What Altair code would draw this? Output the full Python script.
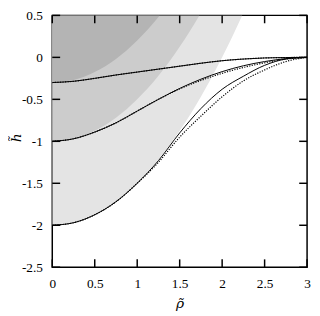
import altair as alt
import pandas as pd

# ---- data ----
rho_grid = [0.0, 0.25, 0.5, 0.75, 1.0, 1.25, 1.5, 1.75, 2.0, 2.25, 2.5, 2.75, 3.0]

# solid curves
h_solid_a = [-2.0, -1.97, -1.875, -1.72, -1.50, -1.23, -0.90, -0.61, -0.38, -0.225, -0.095, -0.02, 0.0]
h_solid_b = [-1.0, -0.97, -0.89, -0.78, -0.64, -0.50, -0.37, -0.26, -0.17, -0.10, -0.05, -0.015, 0.0]
h_solid_c = [-0.30, -0.285, -0.25, -0.21, -0.175, -0.14, -0.105, -0.07, -0.04, -0.02, -0.007, -0.002, 0.0]

# dotted curves
h_dot_a = [-2.0, -1.97, -1.875, -1.72, -1.50, -1.25, -0.95, -0.70, -0.47, -0.28, -0.15, -0.05, 0.0]
h_dot_b = [-1.0, -0.97, -0.89, -0.78, -0.64, -0.50, -0.375, -0.275, -0.19, -0.12, -0.065, -0.02, 0.0]
h_dot_c = [-0.30, -0.285, -0.25, -0.21, -0.175, -0.14, -0.105, -0.07, -0.04, -0.02, -0.007, -0.002, 0.0]

# shaded regions: lower-right boundary of each (region lies above it)
rho_light = [0.0, 0.25, 0.5, 0.75, 1.0, 1.25, 1.5, 1.75, 2.0, 2.236]
h_light = [-2.0, -1.97, -1.875, -1.72, -1.5, -1.22, -0.875, -0.47, 0.0, 0.5]
rho_mid = [0.0, 0.25, 0.5, 0.75, 1.0, 1.25, 1.5, 1.732]
h_mid = [-1.0, -0.97, -0.875, -0.72, -0.5, -0.22, 0.125, 0.5]
rho_dark = [0.0, 0.25, 0.5, 0.75, 1.0, 1.265]
h_dark = [-0.3, -0.27, -0.175, -0.02, 0.2, 0.5]

x_ticks = [0, 0.5, 1, 1.5, 2, 2.5, 3]
y_ticks = [-2.5, -2, -1.5, -1, -0.5, 0, 0.5]
h_top = 0.5

W, H = 259, 256
TICK = 8
FONT = "Liberation Serif"
TFONT = "DejaVu Serif"

xs = alt.Scale(domain=[0, 3], nice=False, zero=False)
ys = alt.Scale(domain=[-2.5, 0.5], nice=False, zero=False)

x_axis = alt.Axis(values=x_ticks, labelExpr="'' + datum.value", ticks=False, domain=False,
                  grid=False, labelFlush=False, labelOverlap=False, labelPadding=10,
                  title="ρ̃", titlePadding=6)
y_axis = alt.Axis(values=y_ticks, labelExpr="'' + datum.value", ticks=False, domain=False,
                  grid=False, labelFlush=False, labelOverlap=False, labelPadding=10,
                  title="h̃", titleX=-36, titleY=H / 2 - 4, titleAngle=270,
                  titleBaseline="middle", titleAlign="center")


def X(field):
    return alt.X(field, scale=xs, axis=x_axis)


def Y(field):
    return alt.Y(field, scale=ys, axis=y_axis)


def region(rhos, hs, color):
    df = pd.DataFrame({"rho": rhos, "h": hs, "top": [h_top] * len(rhos)})
    return alt.Chart(df).mark_area(color=color, interpolate="monotone", clip=True).encode(
        x=X("rho:Q"), y=Y("h:Q"), y2="top:Q",
    )


def curve(hs, dash):
    df = pd.DataFrame({"rho": rho_grid, "h": hs})
    kw = {"strokeDash": [1.2, 1.4], "strokeWidth": 1.2} if dash else {"strokeWidth": 1}
    return alt.Chart(df).mark_line(color="black", interpolate="monotone",
                                   clip=True, **kw).encode(x=X("rho:Q"), y=Y("h:Q"))


xt = pd.DataFrame({"rho": x_ticks})
yt = pd.DataFrame({"h": y_ticks})
tick_style = dict(color="black", strokeWidth=1.5)
ticks = [
    alt.Chart(xt).mark_rule(**tick_style).encode(
        x=X("rho:Q"), y=alt.value(H), y2=alt.value(H - TICK)),
    alt.Chart(xt).mark_rule(**tick_style).encode(
        x=X("rho:Q"), y=alt.value(0), y2=alt.value(TICK)),
    alt.Chart(yt).mark_rule(**tick_style).encode(
        y=Y("h:Q"), x=alt.value(0), x2=alt.value(TICK)),
    alt.Chart(yt).mark_rule(**tick_style).encode(
        y=Y("h:Q"), x=alt.value(W), x2=alt.value(W - TICK)),
]

layers = [
    region(rho_light, h_light, "#e4e4e4"),
    region(rho_mid, h_mid, "#cccccc"),
    region(rho_dark, h_dark, "#b4b4b4"),
    curve(h_solid_a, False), curve(h_solid_b, False), curve(h_solid_c, False),
    curve(h_dot_a, True), curve(h_dot_b, True), curve(h_dot_c, True),
] + ticks

chart = alt.layer(*layers).properties(
    width=W, height=H,
    autosize=alt.AutoSizeParams(type="none"),
    padding={"left": 45, "top": 5, "right": 5, "bottom": 44},
).configure_view(stroke="black", strokeWidth=1.5).configure_axis(
    labelFont=FONT, labelFontSize=13.5, labelColor="black",
    titleFont=TFONT, titleFontSize=14, titleFontStyle="italic", titleFontWeight="normal",
    titleColor="black",
)

chart.save("out.html", embed_options={"renderer": "svg", "actions": False})
